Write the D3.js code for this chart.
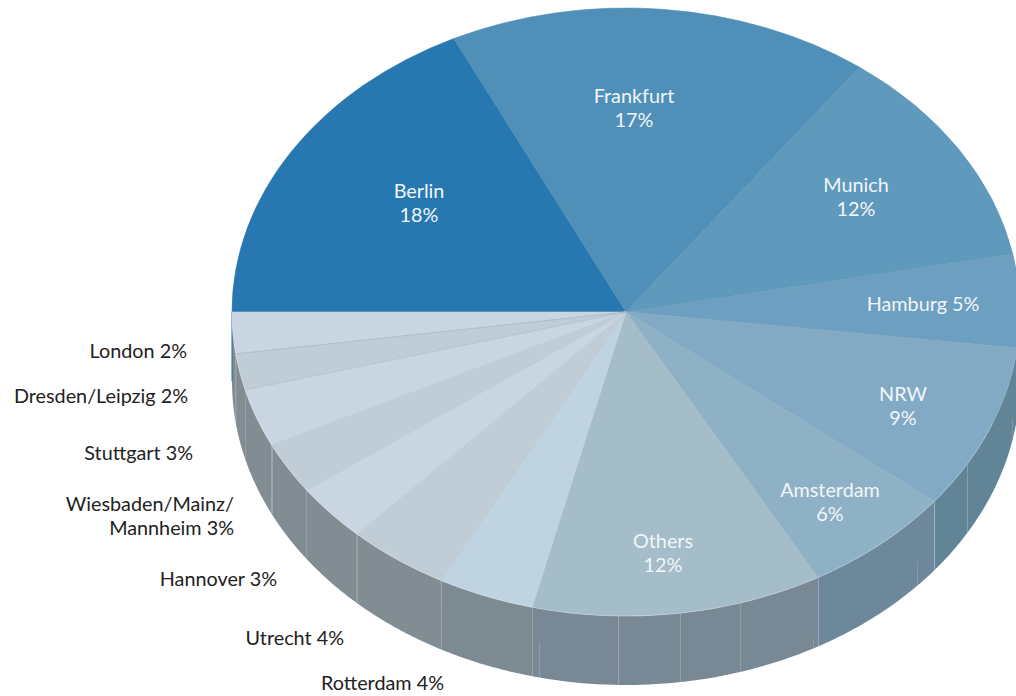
<!DOCTYPE html>
<html><head><meta charset="utf-8">
<script src="https://cdnjs.cloudflare.com/ajax/libs/d3/7.8.5/d3.min.js"></script>
<style>html,body{margin:0;padding:0;background:#fff;overflow:hidden}svg{display:block}text{font-family:Lato,"Noto Sans",sans-serif;font-size:19.8px}</style>
</head><body><svg id="c" width="1016" height="696"></svg>
<script>
const categories=["Berlin","Frankfurt","Munich","Hamburg","NRW","Amsterdam","Others","Rotterdam","Utrecht","Hannover","Wiesbaden/Mainz/ Mannheim","Stuttgart","Dresden/Leipzig","London"];
const shares=[17.8,17.3,11.85,4.95,8.8,6.2,11.93,3.95,4.19,3.06,2.77,3.07,1.93,2.2];
const topColors=["#2777b0","#5090b8","#5f99bc","#6d9fc0","#82aac4","#8fb1c6","#a5bcc9","#c0d3e0","#c1cdd6","#c9d6e2","#c1cdd6","#c9d6e2","#c1cdd6","#c9d6e2"];
const wallColors=["#2a6a9a","#4a7f9f","#55869f","#5a8298","#618497","#6e889b","#788894","#7e8a92","#828d93","#828d93","#828d93","#828d93","#828d93","#828d93"];
const seamStrength=[0,0,0,0,.45,.4,.25,.4,.35,.05,.4,.06,.15,0];
const hairlineStrength=[0,0,0,.5,0,0,0,.12,.12,.12,.2,.35,.7,0];
const extraSeams=[[181.2,0,1,.4],[172.1,0,1,.35],[163.2,0,1,.3],[120.1,0,1,.35],[192.8,.5,1,.3],[132.4,.65,1,.25],[151.7,.87,1,.25],[101.5,.67,.95,.25]];
const labelLines=[["Berlin","18%"],["Frankfurt","17%"],["Munich","12%"],["Hamburg 5%"],["NRW","9%"],["Amsterdam","6%"],["Others","12%"],["Rotterdam 4%"],["Utrecht 4%"],["Hannover 3%"],["Wiesbaden/Mainz/","Mannheim 3%"],["Stuttgart 3%"],["Dresden/Leipzig 2%"],["London 2%"]];

const cx=626,cy=312,rx=394,ry=304,depth=69;
const labelPlace=[[419,198,"middle"],[634,103,"middle"],[856,192,"middle"],[923,311,"middle"],[903,401,"middle"],[830,497,"middle"],[663,548,"middle"],[444,690,"end"],[344,645,"end"],[277,586,"end"],[234,511,"end"],[193,460,"end"],[188,403,"end"],[187,358,"end"]];
const lineGap=24;

const svg=d3.select("#c");
const pie=d3.pie().value(d=>d).sort(null).startAngle(-Math.PI/2).endAngle(Math.PI*1.5);
const arcs=pie(shares);
const arc=d3.arc().innerRadius(0).outerRadius(rx);
const px=a=>cx+rx*Math.sin(a), py=a=>cy-ry*Math.cos(a);
const line=d3.line();

const wallG=svg.append("g");
arcs.forEach((d,i)=>{
  const a0=Math.max(d.startAngle,Math.PI/2),a1=Math.min(d.endAngle,Math.PI*1.5);
  if(a1<=a0) return;
  const t=d3.scaleLinear().domain([0,40]).range([a0,a1]);
  const top=d3.range(41).map(k=>[px(t(k)),py(t(k))]);
  const bot=top.slice().reverse().map(p=>[p[0],p[1]+depth]);
  wallG.append("path").attr("d",line(top.concat(bot))+"Z").attr("fill",wallColors[i]);
});
wallG.append("line").attr("x1",px(-Math.PI/2)).attr("x2",px(-Math.PI/2)).attr("y1",cy).attr("y2",cy+depth).attr("stroke",wallColors[0]).attr("stroke-width",1);
const seam=(a,f0,f1,op)=>{const x=Math.round(px(a))+.5;wallG.append("line").attr("x1",x).attr("x2",x).attr("y1",py(a)+f0*depth).attr("y2",py(a)+f1*depth).attr("stroke","#c4d0d8").attr("stroke-opacity",op).attr("stroke-width",1);};
arcs.forEach((d,i)=>{ if(seamStrength[i]>0) seam(d.endAngle,0,1,seamStrength[i]); });
extraSeams.forEach(s=>seam(s[0]*Math.PI/180,s[1],s[2],s[3]));

const topG=svg.append("g").attr("transform",`translate(${cx},${cy}) scale(1,${ry/rx})`);
topG.selectAll("path").data(arcs).join("path").attr("d",arc).attr("fill",(d,i)=>topColors[i]).attr("stroke",(d,i)=>topColors[i]).attr("stroke-width",.7);

const lineG=svg.append("g");
arcs.forEach((d,i)=>{ if(hairlineStrength[i]>0) lineG.append("line").attr("x1",cx).attr("y1",cy).attr("x2",px(d.endAngle)).attr("y2",py(d.endAngle)).attr("stroke","#8fa9bd").attr("stroke-opacity",hairlineStrength[i]).attr("stroke-width",.8); });
const rimT=d3.scaleLinear().domain([0,120]).range([Math.PI*.62,Math.PI*1.49]);
lineG.append("path").attr("d",line(d3.range(121).map(k=>[px(rimT(k)),py(rimT(k))]))).attr("fill","none").attr("stroke","#d8e3ea").attr("stroke-opacity",.5).attr("stroke-width",.7);

const labelG=svg.append("g");
labelLines.forEach((lines,i)=>{
  const [x,y,anchor]=labelPlace[i];
  const inside=anchor==="middle";
  lines.forEach((s,j)=>labelG.append("text").attr("x",x).attr("y",y+j*lineGap).attr("text-anchor",anchor).attr("fill",inside?"#f2f6f9":"#222").text(s));
});
</script></body></html>
